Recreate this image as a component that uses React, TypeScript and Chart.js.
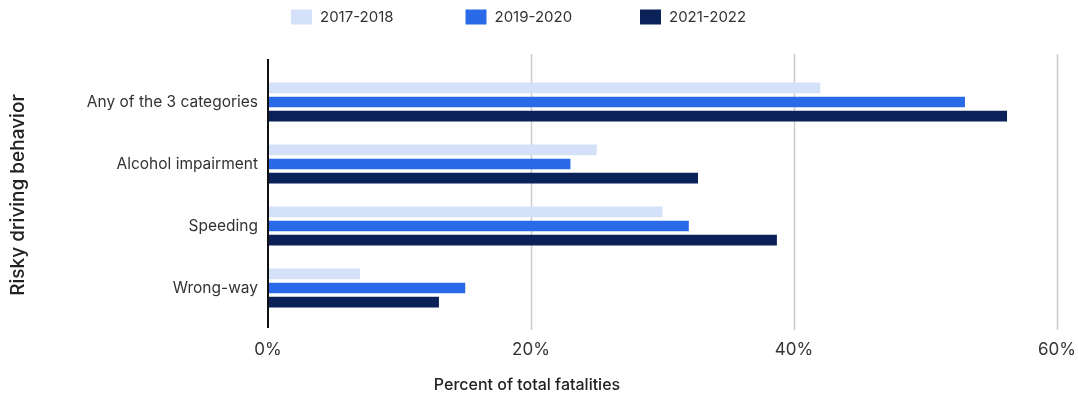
import { useEffect, useRef } from "react";
import { Chart, registerables } from "chart.js";

Chart.register(...registerables);

const categories = ["Any of the 3 categories", "Alcohol impairment", "Speeding", "Wrong-way"];
const seriesLabels = ["2017-2018", "2019-2020", "2021-2022"];
const values2017to2018 = [42, 25, 30, 7];
const values2019to2020 = [53, 23, 32, 15];
const values2021to2022 = [56.2, 32.7, 38.7, 13];
const xTickValues = [0, 20, 40, 60];
const seriesColors = ["#d4e1f9", "#2a6ae8", "#0b2259"];

const FONT = "Inter, 'Noto Sans', sans-serif";

const gridPlugin = {
  id: "customGrid",
  beforeDatasetsDraw(chart: any) {
    const { ctx, chartArea, scales } = chart;
    const x = scales.x;
    ctx.save();
    ctx.strokeStyle = "#cccccc";
    ctx.lineWidth = 1.5;
    xTickValues.forEach((v) => {
      if (v === 0) return;
      const px = Math.round(x.getPixelForValue(v)) + 0.5;
      ctx.beginPath();
      ctx.moveTo(px, chartArea.top - 17);
      ctx.lineTo(px, chartArea.bottom + 11);
      ctx.stroke();
    });
    ctx.restore();
  },
  afterDatasetsDraw(chart: any) {
    const { ctx, chartArea, scales } = chart;
    const x = scales.x;
    const px = x.getPixelForValue(0);
    ctx.save();
    ctx.strokeStyle = "#111111";
    ctx.lineWidth = 2;
    ctx.beginPath();
    ctx.moveTo(px, chartArea.top - 12);
    ctx.lineTo(px, chartArea.bottom + 9);
    ctx.stroke();
    ctx.restore();
  },
};

const legendPlugin = {
  id: "customLegend",
  afterDraw(chart: any) {
    const { ctx } = chart;
    ctx.save();
    ctx.font = `15px ${FONT}`;
    ctx.textBaseline = "middle";
    ctx.textAlign = "left";
    const startX = 291;
    const pitch = 174.5;
    const cy = 17;
    chart.data.datasets.forEach((ds: any, i: number) => {
      const bx = startX + i * pitch;
      ctx.fillStyle = ds.backgroundColor;
      ctx.fillRect(bx, cy - 7.5, 21, 15);
      ctx.fillStyle = "#333333";
      ctx.fillText(ds.label, bx + 29, cy);
    });
    ctx.restore();
  },
};

const xTitlePlugin = {
  id: "xTitle",
  afterDraw(chart: any) {
    const { ctx } = chart;
    ctx.save();
    ctx.font = `500 16px ${FONT}`;
    ctx.fillStyle = "#222222";
    ctx.textAlign = "center";
    ctx.textBaseline = "middle";
    ctx.fillText("Percent of total fatalities", 527, 385);
    ctx.restore();
  },
};

export default function App() {
  const canvasRef = useRef<HTMLCanvasElement | null>(null);

  useEffect(() => {
    if (!canvasRef.current) return;
    const chart = new Chart(canvasRef.current, {
      type: "bar",
      data: {
        labels: categories,
        datasets: [
          { label: seriesLabels[0], data: values2017to2018, backgroundColor: seriesColors[0] },
          { label: seriesLabels[1], data: values2019to2020, backgroundColor: seriesColors[1] },
          { label: seriesLabels[2], data: values2021to2022, backgroundColor: seriesColors[2] },
        ],
      },
      options: {
        indexAxis: "y",
        animation: false,
        responsive: false,
        maintainAspectRatio: false,
        devicePixelRatio: 1,
        datasets: {
          bar: { categoryPercentage: 0.68, barPercentage: 0.76 },
        },
        layout: { padding: { top: 71, right: 21, bottom: 0, left: 0 } },
        plugins: {
          legend: { display: false },
          tooltip: { enabled: false },
          title: { display: false },
        },
        scales: {
          x: {
            min: 0,
            max: 60,
            afterBuildTicks: (scale: any) => {
              scale.ticks = xTickValues.map((v) => ({ value: v }));
            },
            ticks: {
              callback: (v: any) => `${v}%`,
              font: { family: FONT, size: 17 },
              color: "#333333",
              padding: 21,
              maxRotation: 0,
            },
            grid: { display: false, drawTicks: false },
            border: { display: false },
            afterFit: (s: any) => {
              s.height = 81;
              s.paddingRight = 0;
              s.paddingLeft = 0;
            },
          },
          y: {
            ticks: {
              font: { family: FONT, size: 15.5 },
              color: "#333333",
              padding: 10,
            },
            grid: { display: false, drawTicks: false },
            border: { display: false },
            title: {
              display: true,
              text: "Risky driving behavior",
              font: { family: FONT, size: 19, weight: "500" },
              color: "#222222",
              padding: { top: 6.5, bottom: 0 },
            },
            afterFit: (s: any) => {
              s.width = 268;
              s.paddingTop = 0;
              s.paddingBottom = 0;
            },
          },
        },
      },
      plugins: [gridPlugin, legendPlugin, xTitlePlugin],
    } as any);
    return () => chart.destroy();
  }, []);

  return (
    <div style={{ position: "fixed", left: 0, top: 0, width: 1078, height: 400, background: "#ffffff" }}>
      <canvas ref={canvasRef} width={1078} height={400} />
    </div>
  );
}
